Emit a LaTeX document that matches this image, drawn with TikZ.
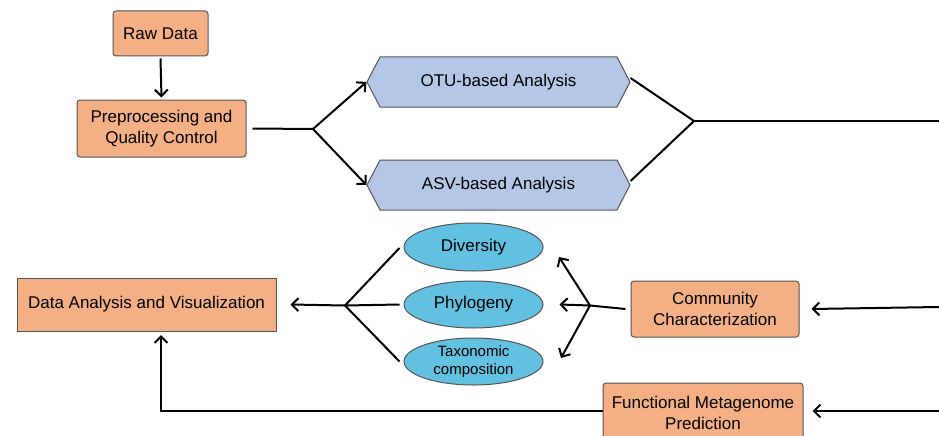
\documentclass[tikz,border=0pt]{standalone}
\usepackage{fontspec}
\setmainfont{Liberation Sans}
\usetikzlibrary{arrows.meta,shapes.geometric,shapes.symbols}
\definecolor{boxorange}{RGB}{244,176,132}
\definecolor{hexblue}{RGB}{180,199,231}
\definecolor{ellblue}{RGB}{98,193,224}
\definecolor{edgegrey}{RGB}{85,85,85}
\begin{document}
\begin{tikzpicture}[x=1pt,y=-1pt,
  basebox/.style={draw=edgegrey, line width=1pt, fill=boxorange, align=center, inner sep=0pt, font=\fontsize{17}{21}\selectfont},
  orangebox/.style={basebox, rounded corners=3pt},
  hexbox/.style={shape=signal, signal to=west and east, signal pointer angle=125, draw=edgegrey, line width=1pt, fill=hexblue, inner sep=0pt, font=\fontsize{17}{21}\selectfont, minimum width=263pt, minimum height=50pt},
  ellbox/.style={ellipse, draw=edgegrey, line width=1pt, fill=ellblue, inner sep=0pt, align=center, minimum width=139pt, minimum height=47pt, font=\fontsize{17}{21}\selectfont},
  conn/.style={line width=2pt, black},
  arr/.style={conn, -{Straight Barb[length=6.5pt,width=13pt,line width=2pt]}}
]
\clip (0,0) rectangle (939,436);
% nodes
\node[orangebox, minimum width=95pt, minimum height=45pt] (raw) at (160.5,33.5) {Raw Data};
\node[orangebox, minimum width=169pt, minimum height=57pt] (pre) at (161.5,128.5) {Preprocessing and\\Quality Control};
\node[hexbox] (otu) at (498.5,82) {OTU-based Analysis};
\node[hexbox] (asv) at (498.5,185) {ASV-based Analysis};
\node[basebox, minimum width=259pt, minimum height=53pt] (dav) at (146.5,304.5) {Data Analysis and Visualization};
\node[ellbox, minimum height=48pt] (div) at (473.5,247) {Diversity};
\node[ellbox] (phy) at (473.5,304.5) {Phylogeny};
\node[ellbox, font=\fontsize{15}{18.5}\selectfont] (tax) at (473.5,361.5) {Taxonomic\\composition};
\node[orangebox, minimum width=168pt, minimum height=56pt] (cc) at (715,309) {Community\\Characterization};
\node[orangebox, minimum width=200pt, minimum height=60pt] (fmp) at (703,413) {Functional Metagenome\\Prediction};
% junctions and free ends
\coordinate (b1) at (313,129);
\coordinate (b2) at (694,121);
\coordinate (b3) at (345,305.5);
\coordinate (b4) at (590,305.5);
\coordinate (r1) at (939,121);
\coordinate (r2) at (939,307);
\coordinate (r3) at (939,411);
\coordinate (corner) at (161,411);
\coordinate (davtip) at (161,335);
\coordinate (t1) at (559,257);
\coordinate (t3) at (561,358);
% connectors
\draw[arr] ([yshift=-2pt]raw.south) -- ([yshift=2pt]pre.north);
\draw[conn] ([xshift=6pt]pre.east) -- (b1);
\draw[arr] (b1) -- (otu.west);
\draw[arr] (b1) -- (asv.west);
\draw[conn] ([yshift=4pt]otu.east) -- (b2);
\draw[conn] ([yshift=4pt]asv.east) -- (b2);
\draw[conn] (b2) -- (r1);
\draw[arr] (r2) -- ([xshift=12pt]cc.east);
\draw[conn] ([xshift=-5pt]cc.west) -- (b4);
\draw[arr] (b4) -- (t1);
\draw[arr] (b4) -- ([xshift=16pt]phy.east);
\draw[arr] (b4) -- (t3);
\draw[conn] ([xshift=-4pt,yshift=-1pt]div.west) -- (b3);
\draw[conn] ([xshift=-4pt]phy.west) -- (b3);
\draw[conn] ([xshift=-4pt]tax.west) -- (b3);
\draw[arr] (b3) -- ([xshift=14pt]dav.east);
\draw[arr] (r3) -- ([xshift=9pt]fmp.east |- r3);
\draw[arr] (fmp.west |- corner) -- (corner) -- (davtip);
\end{tikzpicture}
\end{document}
